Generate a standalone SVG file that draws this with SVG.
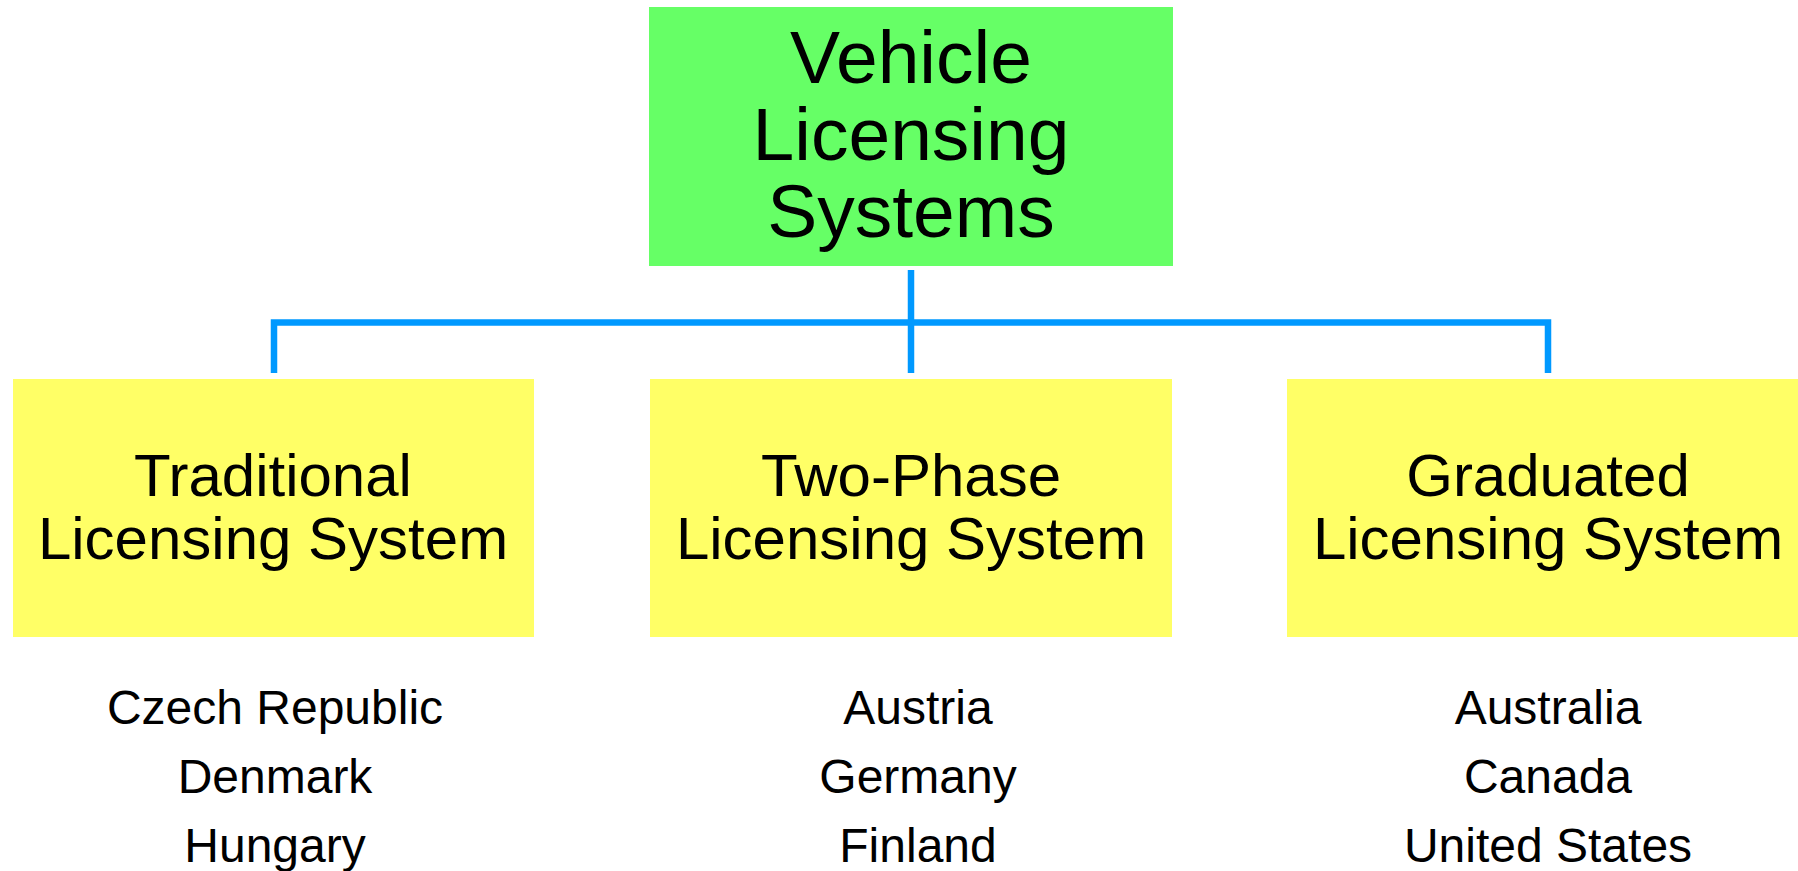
<svg xmlns="http://www.w3.org/2000/svg" width="1798" height="871" viewBox="0 0 1798 871">
<style>
.root{fill:#66FF66}
.box{fill:#FFFF66}
.conn{fill:none;stroke:#0099FF;stroke-width:6.5;stroke-linejoin:miter}
text{font-family:"Liberation Sans",Arial,sans-serif;fill:#000;text-anchor:middle}
.t1{font-size:75px}
.t2{font-size:60px}
.t3{font-size:48px}
</style>
<rect width="1798" height="871" fill="#FFFFFF"/>
<g id="connectors">
<line class="conn" x1="911" y1="270" x2="911" y2="373"/>
<path class="conn" d="M274,373 V322.5 H1548 V373"/>
</g>
<g id="root">
<rect class="root" x="649" y="7" width="524" height="259"/>
<text class="t1" x="911" y="83">Vehicle</text>
<text class="t1" x="911" y="160">Licensing</text>
<text class="t1" x="911" y="237">Systems</text>
</g>
<g id="traditional">
<rect class="box" x="13" y="379" width="521" height="258"/>
<text class="t2" x="273" y="496">Traditional</text>
<text class="t2" x="273" y="559">Licensing System</text>
</g>
<g id="twophase">
<rect class="box" x="650" y="379" width="522" height="258"/>
<text class="t2" x="911" y="496">Two-Phase</text>
<text class="t2" x="911" y="559">Licensing System</text>
</g>
<g id="graduated">
<rect class="box" x="1287" y="379" width="522" height="258"/>
<text class="t2" x="1548" y="496">Graduated</text>
<text class="t2" x="1548" y="559">Licensing System</text>
</g>
<g id="traditional-countries">
<text class="t3" x="275" y="724">Czech Republic</text>
<text class="t3" x="275" y="793">Denmark</text>
<text class="t3" x="275" y="862">Hungary</text>
</g>
<g id="twophase-countries">
<text class="t3" x="918" y="724">Austria</text>
<text class="t3" x="918" y="793">Germany</text>
<text class="t3" x="918" y="862">Finland</text>
</g>
<g id="graduated-countries">
<text class="t3" x="1548" y="724">Australia</text>
<text class="t3" x="1548" y="793">Canada</text>
<text class="t3" x="1548" y="862">United States</text>
</g>
</svg>
